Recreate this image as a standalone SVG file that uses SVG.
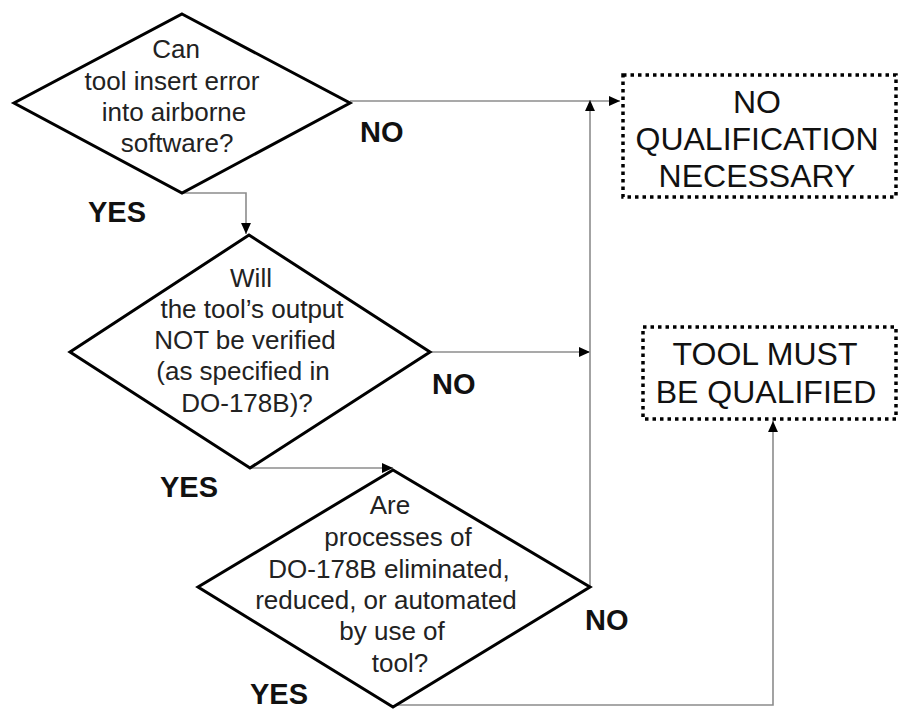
<svg xmlns="http://www.w3.org/2000/svg" width="900" height="709" viewBox="0 0 900 709">
  <style>
    .decision { fill: #ffffff; stroke: #000000; stroke-width: 3; stroke-linejoin: miter; }
    .outcome { fill: #ffffff; stroke: #000000; stroke-width: 3.5; stroke-dasharray: 3.5 4; }
    .q { font-family: "Liberation Sans", Arial, sans-serif; font-size: 26px; fill: #222222; text-anchor: middle; }
    .box { font-family: "Liberation Sans", Arial, sans-serif; font-size: 32px; fill: #111111; text-anchor: middle; }
    .lbl { font-family: "Liberation Sans", Arial, sans-serif; font-size: 29px; font-weight: bold; fill: #111111; }
    .link { fill: none; stroke: #8c8c8c; stroke-width: 1.6; marker-end: url(#arrow); }
  </style>
  <defs>
    <marker id="arrow" viewBox="0 0 10 10" refX="10" refY="5" markerWidth="11" markerHeight="11" markerUnits="userSpaceOnUse" orient="auto">
      <path d="M0,0.5 L10,5 L0,9.5 Z" fill="#000000"/>
    </marker>
  </defs>
  <rect width="900" height="709" fill="#ffffff"/>

  <!-- connectors -->
  <g id="connectors">
    <path class="link" d="M350,101 H620"/>
    <path class="link" d="M182,193 H246 V234"/>
    <path class="link" d="M430,352 H590"/>
    <path class="link" d="M250,468 H393"/>
    <path class="link" d="M590,587 V100"/>
    <path class="link" d="M393,705 H773 V421"/>
  </g>

  <!-- decision 1 -->
  <g id="q-insert-error">
    <polygon class="decision" points="182,14 350,103 182,193 14,103"/>
    <text class="q" x="176" y="58">Can</text>
    <text class="q" x="172" y="90">tool insert error</text>
    <text class="q" x="174" y="121">into airborne</text>
    <text class="q" x="177" y="152">software?</text>
  </g>

  <!-- decision 2 -->
  <g id="q-not-verified">
    <polygon class="decision" points="249,235 430,352 250,468 70,352"/>
    <text class="q" x="251" y="287">Will</text>
    <text class="q" x="252" y="318">the tool’s output</text>
    <text class="q" x="245" y="349">NOT be verified</text>
    <text class="q" x="243" y="380">(as specified in</text>
    <text class="q" x="247" y="412">DO-178B)?</text>
  </g>

  <!-- decision 3 -->
  <g id="q-processes">
    <polygon class="decision" points="393,470 590,587 393,707 198,587"/>
    <text class="q" x="390" y="514">Are</text>
    <text class="q" x="398" y="546">processes of</text>
    <text class="q" x="389" y="578">DO-178B eliminated,</text>
    <text class="q" x="386" y="609">reduced, or automated</text>
    <text class="q" x="392" y="640">by use of</text>
    <text class="q" x="400" y="672">tool?</text>
  </g>

  <!-- outcome: no qualification -->
  <g id="no-qualification">
    <rect class="outcome" x="623" y="75" width="273" height="122"/>
    <text class="box" x="757" y="113">NO</text>
    <text class="box" x="757" y="150">QUALIFICATION</text>
    <text class="box" x="757" y="187">NECESSARY</text>
  </g>

  <!-- outcome: must be qualified -->
  <g id="must-qualify">
    <rect class="outcome" x="643" y="327" width="253" height="92"/>
    <text class="box" x="765" y="365">TOOL MUST</text>
    <text class="box" x="766" y="403">BE QUALIFIED</text>
  </g>

  <!-- branch labels -->
  <g id="labels">
    <text class="lbl" x="360" y="142">NO</text>
    <text class="lbl" x="88" y="222">YES</text>
    <text class="lbl" x="432" y="394">NO</text>
    <text class="lbl" x="160" y="497">YES</text>
    <text class="lbl" x="585" y="630">NO</text>
    <text class="lbl" x="250" y="704">YES</text>
  </g>
</svg>
